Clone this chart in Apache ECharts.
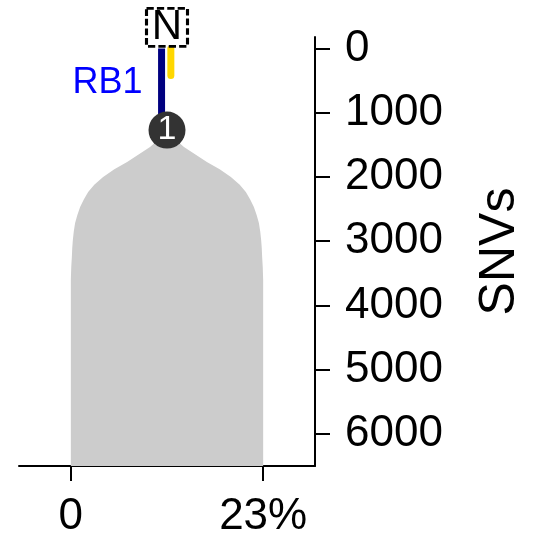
<!DOCTYPE html>
<html>
<head>
	<meta charset="UTF-8">
	<title>clone tree</title>
	<script src="https://cdn.jsdelivr.net/npm/echarts@6/dist/echarts.min.js"></script>
	<style>
		html, body { margin: 0; padding: 0; background: #fff; }
		#chart { width: 535px; height: 539px; }
	</style>
</head>
<body>
<div id="chart"></div>
<script type="text/javascript">
	// axis ticks
	var xTicks = [0, 23];
	var xTickLabels = ['0', '23%'];
	var yTicks = [0, 1000, 2000, 3000, 4000, 5000, 6000];

	// grey clone body: depth (SNVs) and width (%)
	var cloneCenter = 11.5;
	var shapeSnv = [1300, 1533, 1650, 1766, 1880, 2000, 2120, 2234, 2350, 2467, 2590, 2716, 2850, 2981, 3100, 3246, 3400, 3600, 6500];
	var shapeWidth = [0, 4.06, 6.8, 9.54, 12.6, 15.28, 17.4, 18.86, 19.9, 20.78, 21.44, 21.98, 22.3, 22.52, 22.66, 22.76, 22.9, 23, 23];

	// branches
	var blueBranch = [[10.85, 0], [10.85, 1270]];
	var yellowBranch = [[11.96, 0], [11.96, 420]];
	var branchLabel = [[10.85, 530]];

	// nodes
	var rootNode = [[11.5, -330]];
	var cloneNode = [[11.5, 1270]];

	var myChart = echarts.init(document.getElementById('chart'));
	var font = 'Liberation Sans, Arial, sans-serif';

	var option = {
		animation: false,
		grid: { left: 19, right: 220, top: 37, bottom: 73 },
		xAxis: {
			type: 'value',
			min: -6.2,
			max: 29.2,
			splitLine: { show: false },
			axisLine: { onZero: false, lineStyle: { color: '#000', width: 2 } },
			axisTick: { customValues: xTicks, length: 15, lineStyle: { color: '#000', width: 2 } },
			axisLabel: {
				customValues: xTicks,
				margin: 29,
				color: '#000',
				fontSize: 44,
				fontFamily: font,
				formatter: function (v) { return xTickLabels[xTicks.indexOf(v)]; }
			}
		},
		yAxis: {
			type: 'value',
			position: 'right',
			inverse: true,
			min: -180,
			max: 6500,
			name: 'SNVs',
			nameLocation: 'middle',
			nameGap: 160,
			nameTextStyle: { color: '#000', fontSize: 50, fontFamily: font },
			splitLine: { show: false },
			axisLine: { onZero: false, lineStyle: { color: '#000', width: 2 } },
			axisTick: { customValues: yTicks, length: 15, lineStyle: { color: '#000', width: 2 } },
			axisLabel: {
				customValues: yTicks,
				margin: 30,
				padding: [5, 0, 0, 0],
				color: '#000',
				fontSize: 44,
				fontFamily: font,
				formatter: function (v) { return String(v); }
			}
		},
		series: [
			{
				type: 'custom',
				z: 1,
				data: [0],
				renderItem: function (params, api) {
					var left = [], right = [];
					for (var i = 0; i < shapeSnv.length; i++) {
						var half = shapeWidth[i] / 2;
						left.push(api.coord([cloneCenter - half, shapeSnv[i]]));
						right.unshift(api.coord([cloneCenter + half, shapeSnv[i]]));
					}
					return {
						type: 'polygon',
						shape: { points: left.concat(right) },
						style: { fill: '#cccccc' }
					};
				}
			},
			{
				type: 'line',
				z: 2,
				data: blueBranch,
				symbol: 'none',
				lineStyle: { color: '#000080', width: 7 }
			},
			{
				type: 'line',
				z: 2,
				data: yellowBranch,
				symbol: 'none',
				lineStyle: { color: '#ffd700', width: 7, cap: 'round' }
			},
			{
				type: 'scatter',
				z: 3,
				data: branchLabel,
				symbolSize: 0,
				itemStyle: { opacity: 1 },
				label: {
					show: true,
					position: 'left',
					distance: 19,
					formatter: 'RB1',
					color: '#0000ff',
					fontSize: 36,
					fontFamily: font
				}
			},
			{
				type: 'scatter',
				z: 4,
				data: cloneNode,
				symbolSize: 37,
				itemStyle: { color: '#333333', opacity: 1 },
				label: {
					show: true,
					position: 'inside',
					formatter: '1',
					color: '#fff',
					fontSize: 34,
					fontFamily: font
				}
			},
			{
				type: 'scatter',
				z: 5,
				clip: false,
				data: rootNode,
				symbol: 'rect',
				symbolSize: [41, 38],
				itemStyle: {
					color: '#fff',
					opacity: 1,
					borderColor: '#000',
					borderWidth: 3,
					borderType: [7, 3]
				},
				label: {
					show: true,
					position: 'inside',
					formatter: 'N',
					color: '#000',
					fontSize: 42,
					fontFamily: font
				}
			}
		]
	};
	myChart.setOption(option);
</script>
</body>
</html>
